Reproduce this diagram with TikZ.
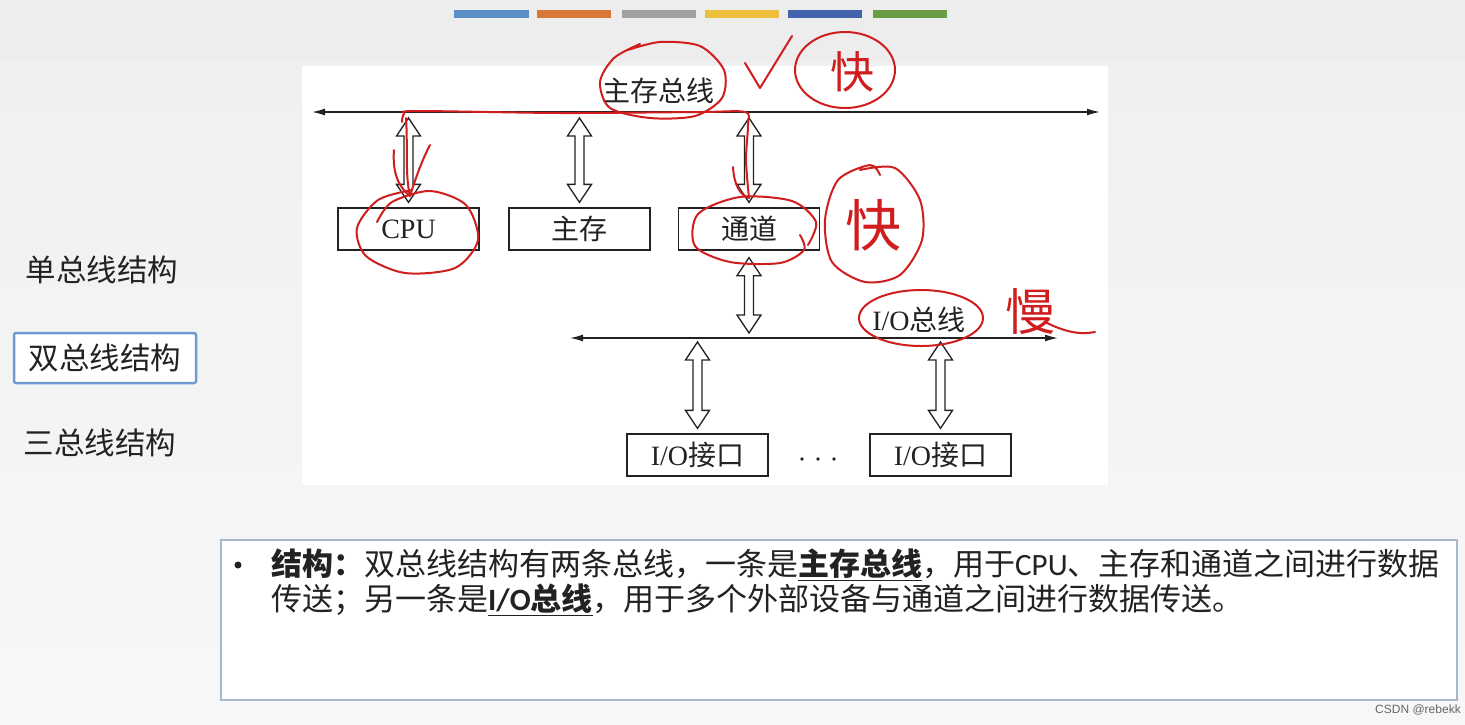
\documentclass[tikz,border=0pt]{standalone}
\usepackage{fontspec}
\setmainfont{Liberation Serif}
\newfontfamily\cjk{Noto Sans CJK SC}
\newfontfamily\carl{Carlito}
\newfontfamily\wm{Liberation Sans}
\usetikzlibrary{arrows.meta,calc}
\definecolor{bgtop}{HTML}{EDEDEE}
\definecolor{bgmid}{HTML}{F0F0F0}
\definecolor{barA}{HTML}{5B8FC9}
\definecolor{barB}{HTML}{D9773A}
\definecolor{barC}{HTML}{A0A0A0}
\definecolor{barD}{HTML}{EDC03E}
\definecolor{barE}{HTML}{4463AE}
\definecolor{barF}{HTML}{6A9C45}
\definecolor{ink}{HTML}{222222}
\definecolor{hand}{HTML}{D01E1E}
\definecolor{selbox}{HTML}{6F9BD0}
\definecolor{notebox}{HTML}{A8B8CC}
\newcommand\DArrow[2]{\draw[hollow] let \p1=#1, \p2=#2 in
 (\x1,\y1-6pt) -- (\x1+12pt,\y1-24pt) -- (\x1+4.5pt,\y1-24pt) -- (\x1+4.5pt,\y2+23pt) -- (\x1+12pt,\y2+23pt) -- (\x1,\y2+5pt) -- (\x1-12pt,\y2+23pt) -- (\x1-4.5pt,\y2+23pt) -- (\x1-4.5pt,\y1-24pt) -- (\x1-12pt,\y1-24pt) -- cycle;}
\begin{document}
\begin{tikzpicture}[x=1pt,y=-1pt,
 bus/.style={draw=ink,line width=1.4pt,{Latex[length=13pt,width=7pt]}-{Latex[length=13pt,width=7pt]}},
 box/.style={draw=ink,line width=1.3pt,minimum width=141pt,minimum height=42pt,inner sep=0pt,font=\fontsize{28}{30}\selectfont,text=ink},
 hollow/.style={draw=ink,line width=1.3pt,fill=white,line join=miter},
 lbl/.style={font=\fontsize{28}{30}\selectfont,inner sep=0pt,text=ink},
 side/.style={font=\cjk\fontsize{30.5}{32}\selectfont,text=ink,inner sep=0pt},
 note/.style={font=\cjk\fontsize{31}{34}\selectfont,text=ink,inner sep=0pt,anchor=west},
 hand/.style={draw=hand,line width=2pt,line cap=round,line join=round},
 handtxt/.style={text=hand,inner sep=0pt}]
\useasboundingbox (0,0) rectangle (1465,724);
% background
\fill[bgtop] (0,0) rectangle (1465,62);
\shade[top color=bgmid,bottom color=white!97!black] (0,62) rectangle (1465,724);
% colour bars
\fill[barA] (454,10) rectangle (529,18);
\fill[barB] (537,10) rectangle (611,18);
\fill[barC] (622,10) rectangle (696,18);
\fill[barD] (705,10) rectangle (779,18);
\fill[barE] (788,10) rectangle (862,18);
\fill[barF] (873,10) rectangle (947,18);
% diagram panel
\fill[white] (302,66) rectangle (1108,485);
% main bus
\coordinate (mbL) at (312,112);
\coordinate (mbR) at (1100,112);
\draw[bus] (mbL) -- (mbR);
\node[lbl] (mblabel) at (658,91) {\cjk 主存总线};
% boxes
\node[box] (cpu) at (408.5,229) {CPU};
\node[box] (mem) at (579.5,229) {\cjk 主存};
\node[box] (chan) at (749,229) {\cjk 通道};
\DArrow{(cpu.north |- mbL)}{(cpu.north)}
\DArrow{(mem.north |- mbL)}{(mem.north)}
\DArrow{(chan.north |- mbL)}{(chan.north)}
% io bus
\coordinate (ioL) at (570,338);
\coordinate (ioR) at (1058,338);
\draw[bus] (ioL) -- (ioR);
\node[lbl] (iolabel) at (919,320) {I/O\cjk 总线};
\coordinate (chanS) at ($(chan.south)+(0,1)$);
\DArrow{(chanS)}{(chan.south |- ioL)}
\node[box] (io1) at (697.5,455) {I/O\cjk 接口};
\node[box] (io2) at (940.5,455) {I/O\cjk 接口};
\coordinate (io1b) at ($(io1.north |- ioL)+(0,-2)$);
\coordinate (io2b) at ($(io2.north |- ioL)+(0,-2)$);
\DArrow{(io1b)}{(io1.north)}
\DArrow{(io2b)}{(io2.north)}
\coordinate (dots) at (818,459);
\fill[ink] ($(dots)+(-16,0)$) circle (1.8) (dots) circle (1.8) ($(dots)+(16,0)$) circle (1.8);
% side labels
\node[side] (s1) at (102,270) {单总线结构};
\node[side,draw=selbox,line width=2.5pt,minimum width=182pt,minimum height=50pt,rounded corners=2pt,fill=white] (s2) at (105,358) {双总线结构};
\node[side] (s3) at (100,443) {三总线结构};
% note box
\draw[notebox,line width=1.5pt,fill=white] (221,540) rectangle (1457,700);
\fill[ink] (238,565) circle (3.5);
\node[note] (l1) at (271,565) {{\bfseries 结构：}双总线结构有两条总线，一条是\underline{\bfseries 主存总线}，用于{\carl CPU}、主存和通道之间进行数据};
\node[note] (l2) at (271,600) {传送；另一条是\underline{\bfseries{\carl I/O}总线}，用于多个外部设备与通道之间进行数据传送。};
\node[font=\wm\fontsize{12}{14}\selectfont,text=black!60,inner sep=0pt] (wm) at (1418,710) {CSDN @rebekk};
% hand annotations
\draw[hand] plot[smooth] coordinates {(628,50) (660,42) (700,46) (724,70) (722,98) (695,116) (650,118) (610,108) (600,82) (614,58) (640,44)};
\draw[hand] plot[smooth] coordinates {(402,122) (404,114) (416,111) (560,113) (700,112) (745,112) (748,125) (746,160) (749,198)};
\draw[hand] (406,118) .. controls (408,150) and (405,175) .. (410,196);
\draw[hand] (394,150) .. controls (392,175) and (400,188) .. (410,196) .. controls (415,180) and (422,160) .. (430,145);
\draw[hand] (733,167) .. controls (734,185) and (740,195) .. (749,198);
\draw[hand] plot[smooth] coordinates {(377,222) (392,202) (430,191) (466,205) (478,240) (455,268) (405,273) (366,256) (357,228) (378,200) (412,190)};
\draw[hand] plot[smooth] coordinates {(800,235) (804,250) (780,263) (730,262) (695,246) (698,214) (740,197) (792,201) (816,222) (808,245)};
\draw[hand] (745,63) -- (760,88) -- (792,36);
\draw[hand] (845,70) ellipse [x radius=50,y radius=38];
\node[handtxt,font=\cjk\fontsize{44}{44}\selectfont] (fast1) at (852,72) {快};
\draw[hand] plot[smooth] coordinates {(860,170) (895,168) (920,200) (922,240) (900,275) (865,282) (832,262) (825,220) (838,180) (870,165) (880,175)};
\node[handtxt,font=\cjk\fontsize{56}{56}\selectfont] (fast2) at (873,225) {快};
\draw[hand] (921,318) ellipse [x radius=62,y radius=28];
\node[handtxt,font=\cjk\fontsize{50}{50}\selectfont] (slow) at (1030,312) {慢};
\draw[hand] (1045,322) .. controls (1065,332) and (1080,335) .. (1095,332);
\end{tikzpicture}
\end{document}
